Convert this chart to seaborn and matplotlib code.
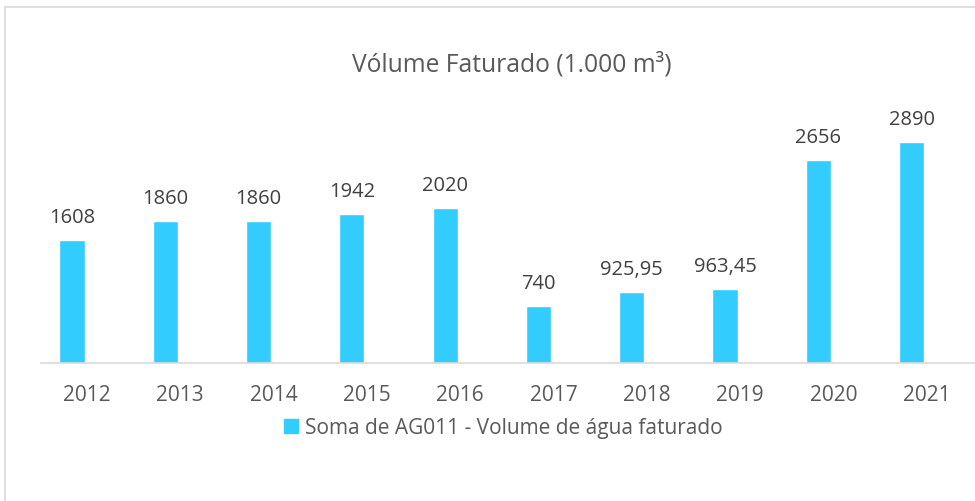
import pandas as pd
import seaborn as sns
import matplotlib.pyplot as plt
import matplotlib.transforms as mtransforms
from matplotlib.patches import Patch
from matplotlib.lines import Line2D

# data
years = ["2012", "2013", "2014", "2015", "2016", "2017", "2018", "2019", "2020", "2021"]
volumes = [1608, 1860, 1860, 1942, 2020, 740, 925.95, 963.45, 2656, 2890]
series_name = "Soma de AG011 - Volume de água faturado"

df = pd.DataFrame({"ano": years, "volume": volumes})

bar_color = "#33CCFF"
text_color = "#595959"
line_color = "#D9D9D9"

sns.set_theme(style="white")
plt.rcParams["font.family"] = ["Open Sans", "DejaVu Sans"]

fig = plt.figure(figsize=(9.75, 5.02), dpi=100)
ax = fig.add_axes([41 / 975, 138 / 502, 934 / 975, 268 / 502])

sns.barplot(data=df, x="ano", y="volume", color=bar_color, width=0.27,
            saturation=1, ax=ax)

# value labels, decimal comma like the source
for i, v in enumerate(volumes):
    txt = f"{v:g}".replace(".", ",")
    ax.annotate(txt, (i, v), xytext=(0, 13), textcoords="offset points",
                ha="center", va="baseline", fontsize=14.5, color="#404040")

ax.set_xlim(-0.332, 9.68)
ax.set_ylim(0, 3500)
ax.set_xlabel("")
ax.set_ylabel("")
ax.set_yticks([])
for s in ["top", "right", "left"]:
    ax.spines[s].set_visible(False)
ax.spines["bottom"].set_color(line_color)
ax.spines["bottom"].set_linewidth(1.2)
ax.tick_params(axis="x", length=0, pad=15, labelsize=15, colors=text_color)

# category labels sit a little to the right of the bars in the source
shift = mtransforms.ScaledTranslation(0.15, 0, fig.dpi_scale_trans)
for lab in ax.get_xticklabels():
    lab.set_transform(lab.get_transform() + shift)

fig.text(0.525, 0.872, "Vólume Faturado (1.000 m³)", ha="center", va="center",
         fontsize=17.7, color=text_color)

handle = Patch(facecolor=bar_color, edgecolor=bar_color)
fig.legend([handle], [series_name], loc="center", bbox_to_anchor=(0.516, 0.146),
           frameon=False, fontsize=15, handlelength=0.7, handleheight=0.7,
           handletextpad=0.3, labelcolor=text_color)

# chart frame (left and top edges visible in the crop)
fig.add_artist(Line2D([5 / 975, 5 / 975], [0, 1 - 8 / 502], transform=fig.transFigure,
                      color=line_color, lw=1.2))
fig.add_artist(Line2D([5 / 975, 1], [1 - 8 / 502, 1 - 8 / 502], transform=fig.transFigure,
                      color=line_color, lw=1.2))

fig.savefig("out.png", dpi=100, facecolor="white")
plt.close()
